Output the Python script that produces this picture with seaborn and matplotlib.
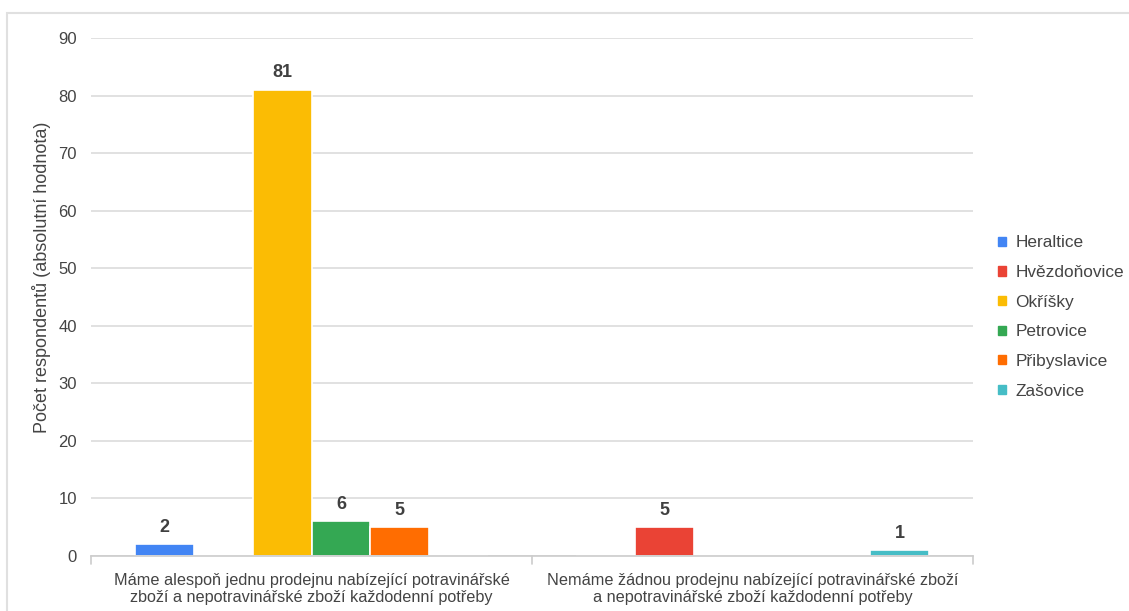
import matplotlib
matplotlib.use("Agg")
import matplotlib.pyplot as plt
import matplotlib.patches as mpatches
import seaborn as sns
import pandas as pd

categories = [
    "Máme alespoň jednu prodejnu nabízející potravinářské\nzboží a nepotravinářské zboží každodenní potřeby",
    "Nemáme žádnou prodejnu nabízející potravinářské zboží\na nepotravinářské zboží každodenní potřeby",
]
series = ["Heraltice", "Hvězdoňovice", "Okříšky", "Petrovice", "Přibyslavice", "Zašovice"]
values_cat1 = [2, 0, 81, 6, 5, 0]
values_cat2 = [0, 5, 0, 0, 0, 1]
colors = ["#4285F4", "#EA4335", "#FBBC04", "#34A853", "#FF6D01", "#46BDC6"]
y_ticks = [0, 10, 20, 30, 40, 50, 60, 70, 80, 90]
y_label = "Počet respondentů (absolutní hodnota)"

rows = []
for s, v1, v2 in zip(series, values_cat1, values_cat2):
    rows.append({"cat": categories[0], "obec": s, "val": v1})
    rows.append({"cat": categories[1], "obec": s, "val": v2})
df = pd.DataFrame(rows)

sns.set_theme(style="white")
plt.rcParams["font.family"] = ["Liberation Sans", "DejaVu Sans"]

fig = plt.figure(figsize=(11.29, 6.11), dpi=100)
W, H = 1129, 611
ax = fig.add_axes([91 / W, 1 - 556 / H, (973 - 91) / W, (556 - 38) / H])

sns.barplot(data=df, x="cat", y="val", hue="obec", hue_order=series,
            order=categories, palette=colors, saturation=1, width=0.80, ax=ax,
            edgecolor="white", linewidth=1.2, legend=False, errorbar=None)

ax.set_ylim(0, 90)
ax.set_xlim(-0.5, 1.5)
ax.set_yticks(y_ticks)
ax.set_yticklabels([str(t) for t in y_ticks])
ax.yaxis.grid(True, color="#d9d9d9", linewidth=1.1)
ax.set_axisbelow(True)
for sp in ["top", "right", "left"]:
    ax.spines[sp].set_visible(False)
ax.spines["bottom"].set_color("#cccccc")
ax.spines["bottom"].set_linewidth(1.2)
ax.tick_params(axis="y", length=0, pad=10, labelsize=12, labelcolor="#444444")
ax.tick_params(axis="x", length=0, pad=12, labelsize=11.7, labelcolor="#444444")
ax.set_xlabel("")
ax.set_ylabel("")
fig.text(42 / W, 1 - 277 / H, y_label, rotation=90, ha="center", va="center",
         fontsize=13, color="#444444")

# category boundary ticks
for xb in [-0.5, 0.5, 1.5]:
    ax.axvline(xb, ymin=-0.015, ymax=0, color="#cccccc", linewidth=1.2, clip_on=False)

for cont in ax.containers:
    labels = [f"{int(b.get_height())}" if b.get_height() > 0 else "" for b in cont]
    ax.bar_label(cont, labels=labels, padding=6, fontsize=13, fontweight="bold", color="#404040")

handles = [mpatches.Patch(color=c, label=s) for s, c in zip(series, colors)]
leg = fig.legend(handles=handles, loc="center left", bbox_to_anchor=(998 / W, 1 - 317 / H),
                 frameon=False, fontsize=12.4, handlelength=0.45, handleheight=0.45,
                 handletextpad=0.55, labelspacing=0.85, borderpad=0, borderaxespad=0)
for t in leg.get_texts():
    t.set_color("#444444")

# figure border
fig.add_artist(mpatches.Rectangle((6.5 / W, -0.05), 1.2, 1 - 13 / H + 0.05,
                                  transform=fig.transFigure, fill=False,
                                  edgecolor="#e0e0e0", linewidth=1.5))

fig.savefig("out.png", dpi=100)
